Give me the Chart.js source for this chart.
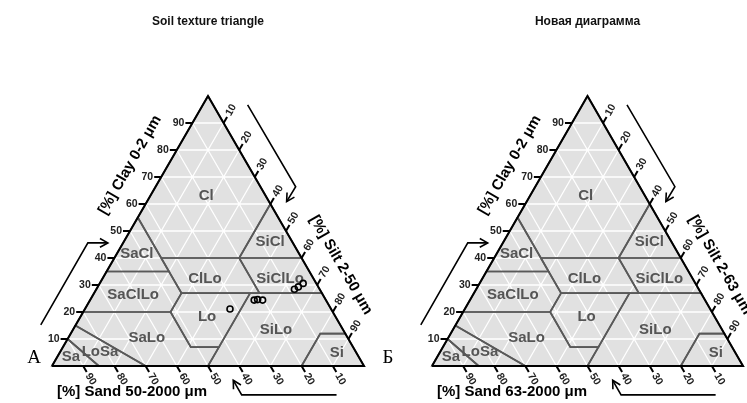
<!DOCTYPE html>
<html>
<head>
<meta charset="utf-8">
<script src="https://cdn.jsdelivr.net/npm/chart.js@4.4.0/dist/chart.umd.min.js"></script>
<style>
  body { margin: 0; background: #fff; }
  .wrap { display: flex; width: 747px; height: 403px; }
  canvas { display: block; }
</style>
</head>
<body>
<div class="wrap">
  <canvas id="soilA" width="374" height="403"></canvas>
  <canvas id="soilB" width="373" height="403"></canvas>
</div>
<script>
// measured samples (only on the left triangle), in %
const sampleClay = [21.1, 24.4, 24.6, 24.4, 28.4, 29.3, 30.6];
const sampleSilt = [46.5, 52.6, 53.6, 55.3, 63.5, 64.3, 65.2];

const tickVals = [10, 20, 30, 40, 50, 60, 70, 80, 90];

// USDA texture classes, vertices as [clay, silt]
const classNames = ["Cl", "SiCl", "SaCl", "ClLo", "SiClLo", "SaClLo", "Lo", "SiLo", "SaLo", "LoSa", "Sa", "Si"];
const classVerts = [
  [[100, 0], [55, 0], [40, 15], [40, 40], [60, 40]],
  [[60, 40], [40, 40], [40, 60]],
  [[55, 0], [35, 0], [35, 20]],
  [[40, 15], [27, 28], [27, 53], [40, 40]],
  [[40, 40], [27, 53], [27, 73], [40, 60]],
  [[35, 0], [20, 0], [20, 28], [27, 28], [35, 20]],
  [[27, 28], [20, 28], [7, 41], [7, 50], [27, 50]],
  [[27, 50], [27, 73], [12, 88], [12, 80], [0, 80], [0, 50], [7, 50]],
  [[20, 0], [15, 0], [0, 30], [0, 50], [7, 50], [7, 41], [20, 28]],
  [[15, 0], [10, 0], [0, 15], [0, 30]],
  [[10, 0], [0, 0], [0, 15]],
  [[12, 88], [0, 100], [0, 80], [12, 80]]
];

// where the class names sit (chart x/y units)
const labelSpots = {
  Cl: [49.4, 63], SiCl: [69.9, 45.9], SaCl: [27.2, 41.5], ClLo: [49, 32.2],
  SiClLo: [73.1, 32.2], SaClLo: [26, 26.3], Lo: [49.7, 18.1], SiLo: [71.8, 13.3],
  SaLo: [30.4, 10.4], LoSa: [15.4, 5.2], Sa: [6.1, 3.3], Si: [91.3, 4.8]
};

// ternary -> chart coords
function tern(clay, silt) {
  return { x: silt + clay / 2, y: clay };
}

function gridPoints() {
  const pts = [];
  tickVals.forEach(k => {
    pts.push(tern(k, 0), tern(k, 100 - k), { x: null, y: null });
    pts.push(tern(0, k), tern(100 - k, k), { x: null, y: null });
    pts.push(tern(0, 100 - k), tern(100 - k, 0), { x: null, y: null });
  });
  return pts;
}

const FONT = "Arial, 'Liberation Sans', sans-serif";

function arrow(ctx, pts, sx, sy) {
  const p = pts.map(q => [sx.getPixelForValue(q[0]), sy.getPixelForValue(q[1])]);
  ctx.beginPath();
  ctx.moveTo(p[0][0], p[0][1]);
  for (let i = 1; i < p.length; i++) ctx.lineTo(p[i][0], p[i][1]);
  ctx.stroke();
  const a = p[p.length - 2], b = p[p.length - 1];
  const ang = Math.atan2(b[1] - a[1], b[0] - a[0]);
  ctx.beginPath();
  ctx.moveTo(b[0] - 9 * Math.cos(ang - 0.5), b[1] - 9 * Math.sin(ang - 0.5));
  ctx.lineTo(b[0], b[1]);
  ctx.lineTo(b[0] - 9 * Math.cos(ang + 0.5), b[1] - 9 * Math.sin(ang + 0.5));
  ctx.stroke();
}

const ternaryDeco = {
  id: 'ternaryDeco',
  beforeDatasetDraw(chart, args) {
    if (args.index !== 0) return;
    const ctx = chart.ctx, sx = chart.scales.x, sy = chart.scales.y;
    ctx.save();
    ctx.font = "bold 15px " + FONT;
    ctx.fillStyle = '#555';
    ctx.textAlign = 'center';
    ctx.textBaseline = 'middle';
    classNames.forEach(n => {
      const s = labelSpots[n];
      ctx.fillText(n, sx.getPixelForValue(s[0]), sy.getPixelForValue(s[1]));
    });
    ctx.restore();
  },
  afterDraw(chart, args, opts) {
    const ctx = chart.ctx, sx = chart.scales.x, sy = chart.scales.y;
    const P = (x, y) => [sx.getPixelForValue(x), sy.getPixelForValue(y)];
    const c60 = 0.5, s60 = Math.sqrt(3) / 2;
    ctx.save();
    ctx.strokeStyle = '#000';
    ctx.lineWidth = 2;
    ctx.fillStyle = '#222';
    ctx.font = "bold 10.5px " + FONT;
    ctx.textBaseline = 'middle';
    tickVals.forEach(v => {
      // clay, left edge
      let p = P(v / 2, v);
      ctx.beginPath(); ctx.moveTo(p[0], p[1]); ctx.lineTo(p[0] - 7, p[1]); ctx.stroke();
      ctx.textAlign = 'right';
      ctx.fillText(String(v), p[0] - 8, p[1]);
      // silt, right edge
      p = P(50 + v / 2, 100 - v);
      ctx.beginPath(); ctx.moveTo(p[0], p[1]); ctx.lineTo(p[0] + 7 * c60, p[1] - 7 * s60); ctx.stroke();
      ctx.save();
      ctx.translate(p[0] + 15 * c60, p[1] - 15 * s60);
      ctx.rotate(-Math.PI / 3);
      ctx.textAlign = 'center';
      ctx.fillText(String(v), 0, 0);
      ctx.restore();
      // sand, base
      p = P(v, 0);
      ctx.beginPath(); ctx.moveTo(p[0], p[1]); ctx.lineTo(p[0] + 7 * c60, p[1] + 7 * s60); ctx.stroke();
      ctx.save();
      ctx.translate(p[0] + 15 * c60, p[1] + 15 * s60);
      ctx.rotate(Math.PI / 3);
      ctx.textAlign = 'center';
      ctx.fillText(String(100 - v), 0, 0);
      ctx.restore();
    });

    // axis titles
    ctx.fillStyle = '#000';
    ctx.font = "bold 15px " + FONT;
    ctx.textAlign = 'center';
    let t = P(25, 74.4);
    ctx.save(); ctx.translate(t[0], t[1]); ctx.rotate(-Math.PI / 3);
    ctx.fillText("[%] Clay 0-2 \u03bcm", 0, 0); ctx.restore();
    t = P(92.6, 37.4);
    ctx.save(); ctx.translate(t[0], t[1]); ctx.rotate(Math.PI / 3);
    ctx.fillText(opts.siltTitle, 0, 0); ctx.restore();
    t = P(1.6, -9.6);
    ctx.textAlign = 'left';
    ctx.fillText(opts.sandTitle, t[0], t[1]);

    // direction arrows
    ctx.lineWidth = 1.6;
    arrow(ctx, [[-3.6, 15.2], [11.5, 45.6], [17.9, 45.6]], sx, sy);
    arrow(ctx, [[62.7, 96.7], [78.1, 66.4], [75.2, 60.9]], sx, sy);
    arrow(ctx, [[91.2, -10.7], [60.8, -10.7], [58.1, -5.3]], sx, sy);

    // panel letter
    ctx.font = "19px 'Liberation Serif', 'Times New Roman', serif";
    ctx.textAlign = 'center';
    ctx.fillText(opts.letter, opts.letterX, 358);
    ctx.restore();
  }
};

Chart.defaults.font.family = FONT;

function makeChart(id, o) {
  const datasets = [];
  datasets.push({
    label: 'samples',
    data: o.samples ? sampleClay.map((c, i) => tern(c, sampleSilt[i])) : [],
    showLine: false,
    pointStyle: 'circle',
    pointRadius: 3,
    pointBorderWidth: 1.6,
    pointBorderColor: '#000',
    pointBackgroundColor: 'rgba(0,0,0,0)',
    clip: false
  });
  datasets.push({
    label: 'frame',
    data: [tern(0, 0), tern(100, 0), tern(0, 100), tern(0, 0)],
    showLine: true, borderColor: '#000', borderWidth: 2, pointRadius: 0, clip: false
  });
  classVerts.forEach((v, i) => {
    const pts = v.map(q => tern(q[0], q[1]));
    pts.push(pts[0]);
    datasets.push({
      label: classNames[i], data: pts, showLine: true,
      borderColor: '#595959', borderWidth: 1.7, pointRadius: 0, clip: false
    });
  });
  datasets.push({
    label: 'grid', data: gridPoints(), showLine: true, spanGaps: false,
    borderColor: '#ffffff', borderWidth: 1.3, pointRadius: 0, clip: false
  });
  datasets.push({
    label: 'area', data: [tern(0, 0), tern(100, 0), tern(0, 100)],
    showLine: true, fill: 'origin', backgroundColor: '#e1e1e1',
    borderWidth: 0, pointRadius: 0, clip: false
  });

  return new Chart(document.getElementById(id), {
    type: 'scatter',
    data: { datasets },
    plugins: [ternaryDeco],
    options: {
      responsive: false,
      animation: false,
      events: [],
      layout: { autoPadding: false, padding: { left: o.padLeft, right: o.padRight, top: 0, bottom: 37 } },
      scales: {
        x: { type: 'linear', min: 0, max: 100, display: false },
        y: { type: 'linear', min: 0, max: 100, display: false }
      },
      plugins: {
        legend: { display: false },
        tooltip: { enabled: false },
        title: {
          display: true, text: o.title, color: '#111',
          font: { size: 12, weight: 'bold' },
          padding: { top: 14.5, bottom: 67.1 }
        },
        ternaryDeco: { siltTitle: o.siltTitle, sandTitle: o.sandTitle, letter: o.letter, letterX: o.letterX }
      }
    }
  });
}

makeChart('soilA', {
  title: 'Soil texture triangle', samples: true, padLeft: 52, padRight: 10,
  siltTitle: '[%] Silt 2-50 \u03bcm', sandTitle: '[%] Sand 50-2000 \u03bcm',
  letter: '\u0410', letterX: 34
});
makeChart('soilB', {
  title: '\u041d\u043e\u0432\u0430\u044f \u0434\u0438\u0430\u0433\u0440\u0430\u043c\u043c\u0430', samples: false, padLeft: 58, padRight: 4,
  siltTitle: '[%] Silt 2-63 \u03bcm', sandTitle: '[%] Sand 63-2000 \u03bcm',
  letter: '\u0411', letterX: 14
});
</script>
</body>
</html>
